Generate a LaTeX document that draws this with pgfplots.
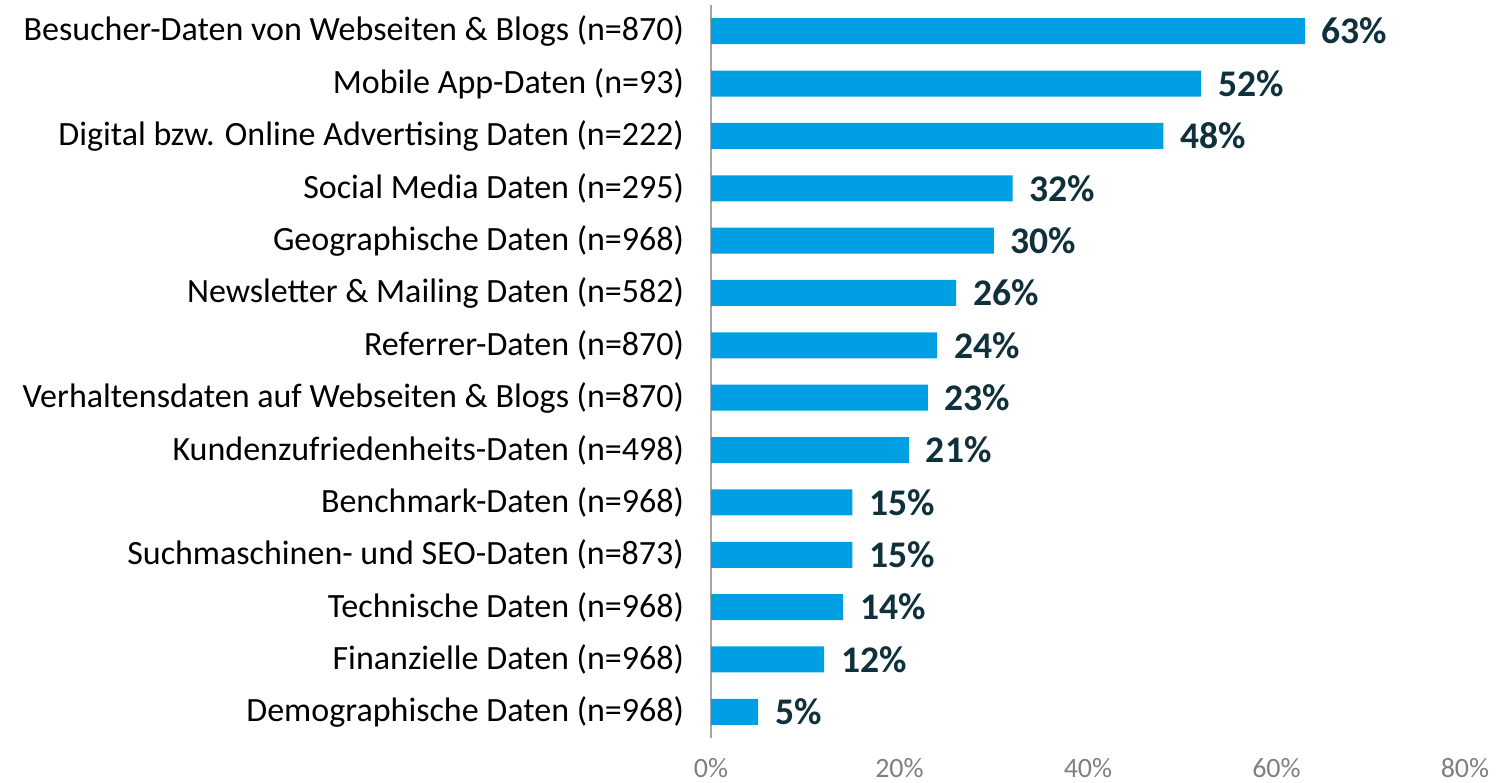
\documentclass[border=0pt]{standalone}
\usepackage{pgfplots}
\pgfplotsset{compat=1.18}
\usepackage{fontspec}
\setmainfont{Carlito}
\definecolor{barblue}{HTML}{009FE3}
\definecolor{valdark}{HTML}{10303C}
\definecolor{tickgray}{HTML}{808080}
\definecolor{axgray}{HTML}{A6A6A6}
\begin{document}
\begin{tikzpicture}
\useasboundingbox (0,0) rectangle (748.5pt,391pt);
\begin{axis}[
  at={(355.5pt,22pt)}, anchor=south west,
  scale only axis, width=377pt, height=366.5pt,
  xbar, bar width=13pt, bar shift=0pt,
  xmin=0, xmax=80, enlarge x limits=false,
  ymin=-0.5, ymax=13.5, y dir=reverse,
  ytick={0,...,13},
  yticklabels={Besucher-Daten von Webseiten \& Blogs (n=870),
    Mobile App-Daten (n=93),
    Digital bzw. Online Advertising Daten (n=222),
    Social Media Daten (n=295),
    Geographische Daten (n=968),
    Newsletter \& Mailing Daten (n=582),
    Referrer-Daten (n=870),
    Verhaltensdaten auf Webseiten \& Blogs (n=870),
    Kundenzufriedenheits-Daten (n=498),
    Benchmark-Daten (n=968),
    Suchmaschinen- und SEO-Daten (n=873),
    Technische Daten (n=968),
    Finanzielle Daten (n=968),
    Demographische Daten (n=968)},
  xtick={0,20,40,60,80},
  xticklabels={0\%,20\%,40\%,60\%,80\%},
  axis x line*=bottom, axis y line*=left,
  x axis line style={draw=none},
  y axis line style={axgray, line width=0.6pt},
  major tick length=0pt,
  yticklabel style={font=\fontsize{17}{20}\selectfont, text=black, xshift=-10pt},
  xticklabel style={font=\fontsize{14}{17}\selectfont, text=tickgray, yshift=-6.5pt},
  /pgf/number format/assume math mode=true,
  point meta=x,
  nodes near coords={\pgfmathprintnumber{\pgfplotspointmeta}\%},
  nodes near coords style={font=\bfseries\fontsize{18.8}{22}\selectfont, text=valdark, anchor=west, xshift=5pt},
  clip=false,
]
\addplot[fill=barblue, draw=none] coordinates {
  (63,0) (52,1) (48,2) (32,3) (30,4) (26,5) (24,6) (23,7) (21,8) (15,9) (15,10) (14,11) (12,12) (5,13)
};
\end{axis}
\end{tikzpicture}
\end{document}
